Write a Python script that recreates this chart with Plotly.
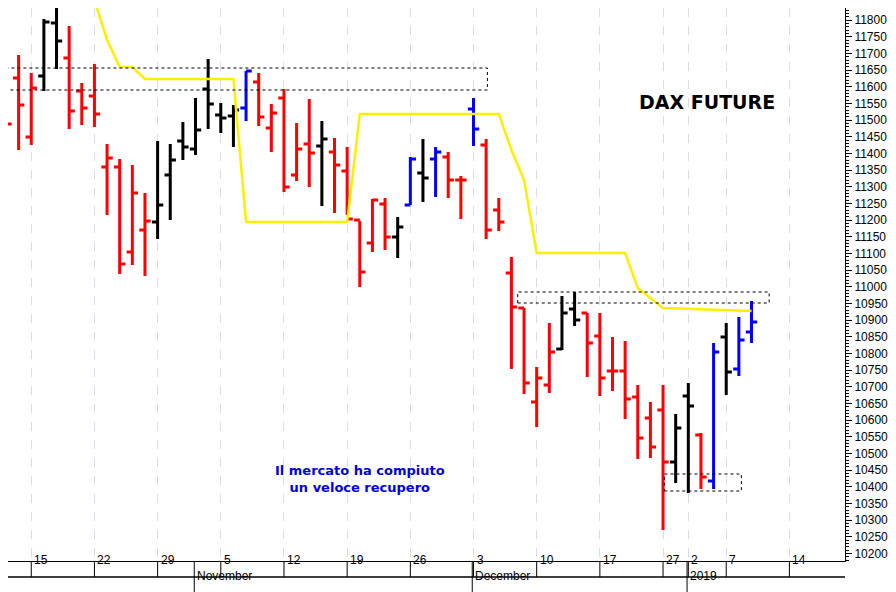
import plotly.graph_objects as go

# trading days shown (Oct 11 2018 .. Jan 9 2019)
dates = [
    "2018-10-11", "2018-10-12",
    "2018-10-15", "2018-10-16", "2018-10-17", "2018-10-18", "2018-10-19",
    "2018-10-22", "2018-10-23", "2018-10-24", "2018-10-25", "2018-10-26",
    "2018-10-29", "2018-10-30", "2018-10-31", "2018-11-01", "2018-11-02",
    "2018-11-05", "2018-11-06", "2018-11-07", "2018-11-08", "2018-11-09",
    "2018-11-12", "2018-11-13", "2018-11-14", "2018-11-15", "2018-11-16",
    "2018-11-19", "2018-11-20", "2018-11-21", "2018-11-22", "2018-11-23",
    "2018-11-26", "2018-11-27", "2018-11-28", "2018-11-29", "2018-11-30",
    "2018-12-03", "2018-12-04", "2018-12-05", "2018-12-06", "2018-12-07",
    "2018-12-10", "2018-12-11", "2018-12-12", "2018-12-13", "2018-12-14",
    "2018-12-17", "2018-12-18", "2018-12-19", "2018-12-20", "2018-12-21",
    "2018-12-27", "2018-12-28",
    "2019-01-02", "2019-01-03", "2019-01-04",
    "2019-01-07", "2019-01-08", "2019-01-09",
]
opens = [11497, 11626, 11449, 11632, 11791, 11686, 11587, 11572, 11359, 11359,
         11104, 11170, 11194, 11335, 11437, 11413, 11593, 11515, 11512, 11536,
         11614, 11476, 11566, 11335, 11428, 11422, 11404, 11347, 11200, 11131,
         11248, 11149, 11245, 11341, 11383, 11389, 11320, 11533, 11425, 11230,
         11041, 10936, 10654, 10705, 10813, 10933, 10921, 10852, 10747, 10747,
         10669, 10606, 10630, 10474, 10672, 10555, 10417, 10849, 10753, 10864]
highs = [11686, 11695, 11641, 11803, 11836, 11782, 11611, 11668, 11428, 11383,
         11365, 11281, 11437, 11428, 11494, 11566, 11683, 11551, 11545, 11647,
         11641, 11548, 11593, 11491, 11563, 11497, 11446, 11419, 11197, 11263,
         11266, 11209, 11389, 11443, 11419, 11404, 11332, 11566, 11443, 11266,
         11089, 10936, 10759, 10891, 10972, 10984, 10921, 10921, 10849, 10837,
         10705, 10654, 10705, 10618, 10711, 10561, 10831, 10891, 10909, 10957]
lows = [11380, 11410, 11425, 11587, 11653, 11473, 11485, 11479, 11215, 11038,
        11065, 11032, 11143, 11200, 11380, 11395, 11473, 11461, 11419, 11497,
        11482, 11404, 11284, 11317, 11299, 11242, 11221, 11215, 10999, 11104,
        11110, 11086, 11245, 11254, 11269, 11266, 11203, 11422, 11143, 11167,
        10753, 10678, 10579, 10681, 10810, 10882, 10729, 10672, 10687, 10603,
        10483, 10486, 10270, 10411, 10381, 10393, 10393, 10675, 10732, 10831]
closes = [11488, 11545, 11596, 11794, 11737, 11527, 11536, 11518, 11386, 11068,
          11281, 11197, 11245, 11380, 11419, 11470, 11548, 11506, 11530, 11647,
          11509, 11521, 11299, 11413, 11401, 11443, 11365, 11203, 11044, 11260,
          11149, 11179, 11383, 11326, 11404, 11320, 11320, 11473, 11170, 11194,
          10939, 10711, 10726, 10804, 10921, 10900, 10831, 10726, 10747, 10663,
          10546, 10519, 10474, 10576, 10642, 10429, 10804, 10744, 10840, 10894]
bar_colors = (["red"] * 3 + ["black"] * 2 + ["red"] * 7 + ["black"] * 7 + ["blue"]
              + ["red"] * 5 + ["black"] + ["red"] * 5 + ["black", "blue", "black", "blue"]
              + ["red"] * 2 + ["blue"] + ["red"] * 6 + ["black"] * 2 + ["red"] * 7
              + ["black"] * 2 + ["red", "blue", "black", "blue", "blue"])

# yellow trailing line (bar index, level)
trail_x = [7, 8, 9, 10, 11, 18, 19, 27, 28, 39, 40, 41, 42, 49, 50, 52, 59]
trail_y = [11860, 11740, 11659, 11659, 11623, 11623, 11194, 11194, 11518, 11518,
           11410, 11320, 11101, 11101, 10996, 10936, 10927]

# dashed zones: (x0, x1, y0, y1)
zones = [(-0.6, 38.1, 11590, 11656), (40.5, 60.4, 10951, 10984), (52.1, 58.2, 10387, 10438)]

tick_idx = [2, 7, 12, 17, 22, 27, 32, 37, 42, 47, 52, 54, 57, 62]
tick_text = ["15", "22", "29", "5", "12", "19", "26", "3", "10", "17", "27", "2", "7", "14"]
month_idx = [14.9, 36.9, 53.9]
month_text = ["November", "December", "2019"]

x = list(range(len(dates)))
fig = go.Figure()
for col in ["red", "black", "blue"]:
    sel = [i for i in x if bar_colors[i] == col]
    fig.add_trace(go.Ohlc(
        x=sel,
        open=[opens[i] for i in sel], high=[highs[i] for i in sel],
        low=[lows[i] for i in sel], close=[closes[i] for i in sel],
        increasing=dict(line=dict(color=col, width=3)),
        decreasing=dict(line=dict(color=col, width=3)),
        tickwidth=0.45, hoverinfo="skip", showlegend=False,
    ))

fig.add_trace(go.Scatter(x=trail_x, y=trail_y, mode="lines",
                         line=dict(color="#ffee00", width=2.5), showlegend=False))

for x0, x1, y0, y1 in zones:
    fig.add_shape(type="rect", x0=x0, x1=x1, y0=y0, y1=y1,
                  line=dict(color="black", width=1, dash="dot"))

# bottom date axis drawn as two boxed rows
r1, r2, r3 = 0, -0.029, -0.056
fig.add_shape(type="line", xref="paper", yref="paper", x0=0, x1=1, y0=r2, y1=r2,
              line=dict(color="black", width=1.5))
for xi, t in zip(tick_idx + month_idx, tick_text + [""] * 3):
    fig.add_shape(type="line", xref="x", yref="paper", x0=xi, x1=xi, y0=r1, y1=r2,
                  line=dict(color="black", width=1))
    if t:
        fig.add_annotation(x=xi, y=(r1 + r2) / 2, xref="x", yref="paper", text=t,
                           showarrow=False, xanchor="left", xshift=1,
                           font=dict(size=12, color="black"))
for xi, t in zip(month_idx, month_text):
    fig.add_shape(type="line", xref="x", yref="paper", x0=xi, x1=xi, y0=r2, y1=r3,
                  line=dict(color="black", width=1))
    fig.add_annotation(x=xi, y=(r2 + r3) / 2, xref="x", yref="paper", text=t,
                       showarrow=False, xanchor="left", xshift=1,
                       font=dict(size=12, color="black"))

fig.add_annotation(x=55.5, y=11555, text="<b>DAX FUTURE</b>", showarrow=False,
                   font=dict(size=19, color="black", family="DejaVu Sans"))
fig.add_annotation(x=28, y=10424, text="<b>Il mercato ha compiuto<br>un veloce recupero</b>",
                   showarrow=False, font=dict(size=13, color="#0000dd", family="DejaVu Sans"))

# the page puts the figure 8px in from the top-left, so the canvas is a bit smaller
fig.update_layout(
    width=888, height=584, margin=dict(l=0, r=51, t=0, b=31),
    paper_bgcolor="white", plot_bgcolor="white",
    font=dict(family="Liberation Sans", size=12, color="black"),
    xaxis=dict(range=[0.16, 66.4], rangeslider=dict(visible=False), automargin=False,
               tickvals=tick_idx, showticklabels=False, ticks="",
               showgrid=True, gridcolor="#d8dcee", griddash="dash", gridwidth=1,
               showline=True, linecolor="black", mirror=True, zeroline=False),
    yaxis=dict(range=[10177, 11836], side="right", dtick=50, tick0=10200,
               tickformat="d", tickfont=dict(size=12), automargin=False,
               ticks="outside", ticklen=6, tickcolor="black", showgrid=False,
               showline=True, linecolor="black", mirror=True, zeroline=False,
               minor=dict(dtick=10, ticks="outside", ticklen=3, tickcolor="black")),
)

fig.write_html("out.html")
